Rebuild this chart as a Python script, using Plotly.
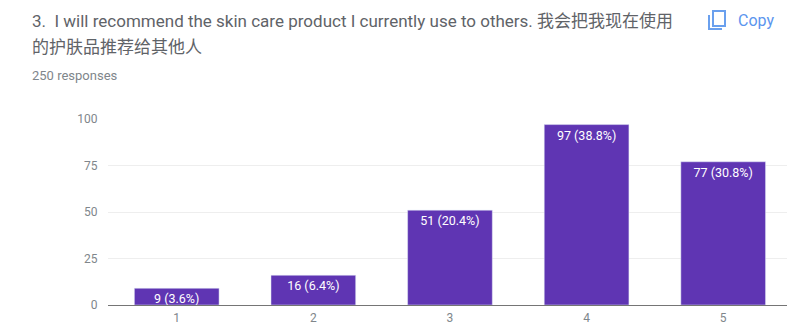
import plotly.graph_objects as go

categories = ["1", "2", "3", "4", "5"]
counts = [9, 16, 51, 97, 77]
bar_labels = ["9 (3.6%)", "16 (6.4%)", "51 (20.4%)", "97 (38.8%)", "77 (30.8%)"]
y_ticks = [0, 25, 50, 75, 100]
title_line1 = "3.  I will recommend the skin care product I currently use to others. 我会把我现在使用"
title_line2 = "的护肤品推荐给其他人"
responses = "250 responses"

W, H = 787, 325
L, R, T, B = 108, 0, 119, 20


def px(x):
    return (x - L) / (W - L - R)


def py(y):
    return 1 - (y - T) / (H - T - B)


fig = go.Figure(go.Bar(
    x=list(range(len(categories))), y=counts, text=bar_labels,
    width=0.62, marker_color="#5f35b3", textposition="inside",
    insidetextanchor="end", textangle=0, constraintext="none",
    textfont=dict(family="Roboto, Arial", size=12.5, color="#ffffff"),
    hoverinfo="skip",
))

notes = [
    (32, 21, title_line1, 17, "#5f6368"),
    (32, 47, title_line2, 17, "#5f6368"),
    (32, 75, responses, 13, "#80868b"),
    (738, 20, "Copy", 16, "#5b95ee"),
]
annotations = [dict(
    x=px(x), y=py(y), xref="paper", yref="paper", text=t, showarrow=False,
    xanchor="left", yanchor="middle", xshift=-2,
    font=dict(family="Roboto, 'Noto Sans CJK SC', Arial", size=s, color=c),
) for x, y, t, s, c in notes]

shapes = [
    dict(type="rect", xref="paper", yref="paper", x0=px(713), x1=px(725),
         y0=py(11), y1=py(26), line=dict(color="#6aa0ee", width=2), fillcolor="#ffffff"),
    dict(type="path", xref="paper", yref="paper",
         path=f"M {px(709)} {py(15)} L {px(709)} {py(29)} L {px(722)} {py(29)}",
         line=dict(color="#6aa0ee", width=2)),
]

fig.update_layout(
    width=W, height=H, autosize=False,
    margin=dict(l=L, r=R, t=T, b=B, pad=0, autoexpand=False),
    paper_bgcolor="#ffffff", plot_bgcolor="#ffffff",
    showlegend=False, annotations=annotations, shapes=shapes,
    font=dict(family="Roboto, Arial", size=12, color="#80868b"),
    xaxis=dict(
        range=[-0.503, 4.467], tickmode="array",
        tickvals=list(range(len(categories))), ticktext=categories,
        showgrid=False, zeroline=False, ticks="outside", ticklen=2, tickcolor="#ffffff",
        showline=False, automargin=False,
        tickfont=dict(size=12, color="#80868b"),
    ),
    yaxis=dict(
        range=[0, 100], tickvals=y_ticks, showgrid=True, gridcolor="#eeeeee",
        gridwidth=1, zeroline=True, zerolinecolor="#757575", zerolinewidth=1,
        ticks="outside", ticklen=7, tickcolor="#ffffff", showline=False, automargin=False,
        tickfont=dict(size=12, color="#80868b"),
    ),
)

fig.write_html("out.html", config=dict(displayModeBar=False),
               post_script="document.body.style.margin='0';")
